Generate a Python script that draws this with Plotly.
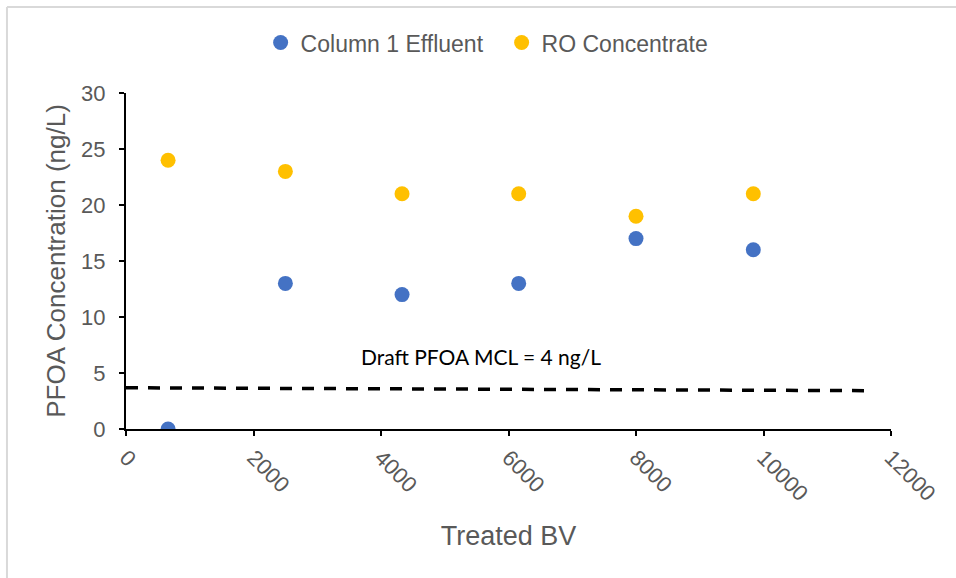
import plotly.graph_objects as go

treated_bv = [660, 2500, 4330, 6160, 8000, 9840]
column1_effluent = [0, 13, 12, 13, 17, 16]
ro_concentrate = [24, 23, 21, 21, 19, 21]

x_ticks = [0, 2000, 4000, 6000, 8000, 10000, 12000]
x_ticktext = ["0", "2000", "4000", "6000", "8000", "10000", "12000"]
y_ticks = [0, 5, 10, 15, 20, 25, 30]

mcl_x = [0, 11700]
mcl_y = [3.68, 3.42]
mcl_label = "Draft PFOA MCL = 4 ng/L"

fig = go.Figure()
fig.add_trace(go.Scatter(x=treated_bv, y=column1_effluent, mode="markers",
                         name="Column 1 Effluent",
                         marker=dict(color="#4472C4", size=15)))
fig.add_trace(go.Scatter(x=treated_bv, y=ro_concentrate, mode="markers",
                         name="RO Concentrate",
                         marker=dict(color="#FFC000", size=15)))
fig.add_trace(go.Scatter(x=mcl_x, y=mcl_y, mode="lines", showlegend=False,
                         hoverinfo="skip",
                         line=dict(color="black", width=3.5, dash="12px,10px")))

fig.add_annotation(x=5570, y=6.5, text=mcl_label, showarrow=False,
                   xanchor="center", yanchor="middle",
                   font=dict(family="Lato, Open Sans, Liberation Sans", size=21, color="black"))

gray = "#595959"
fig.update_layout(
    width=956, height=578,
    margin=dict(l=126, r=65, t=93, b=149),
    paper_bgcolor="white", plot_bgcolor="white",
    font=dict(family="Liberation Sans, Arial", color=gray),
    showlegend=True,
    legend=dict(orientation="h", x=0.491, xanchor="center", y=1.15, yanchor="middle",
                font=dict(size=23, color=gray), itemwidth=30,
                entrywidth=196, entrywidthmode="pixels",
                tracegroupgap=0),
    xaxis=dict(range=[0, 12000], tickvals=x_ticks, ticktext=x_ticktext,
               showgrid=False, zeroline=False, showline=True, linecolor="black",
               linewidth=2, ticks="outside", tickcolor="black", ticklen=5, tickwidth=1.5,
               tickangle=45, tickfont=dict(size=22, color=gray),
               title=dict(text="Treated BV", font=dict(size=27, color=gray), standoff=21)),
    yaxis=dict(range=[0, 30], tickvals=y_ticks,
               showgrid=False, zeroline=False, showline=True, linecolor="black",
               linewidth=2, ticks="outside", tickcolor="black", ticklen=5, tickwidth=1.5,
               ticklabelstandoff=9,
               tickfont=dict(size=22, color=gray),
               title=dict(text="PFOA Concentration (ng/L)", font=dict(size=26, color=gray), standoff=8)),
    shapes=[
        dict(type="line", xref="paper", yref="paper", x0=-0.1556, x1=-0.1556, y0=-0.5,
             y1=1.256, line=dict(color="#d9d9d9", width=2)),
        dict(type="line", xref="paper", yref="paper", x0=-0.1556, x1=1.2, y0=1.256,
             y1=1.256, line=dict(color="#d9d9d9", width=2)),
    ],
)

fig.write_html("out.html")
